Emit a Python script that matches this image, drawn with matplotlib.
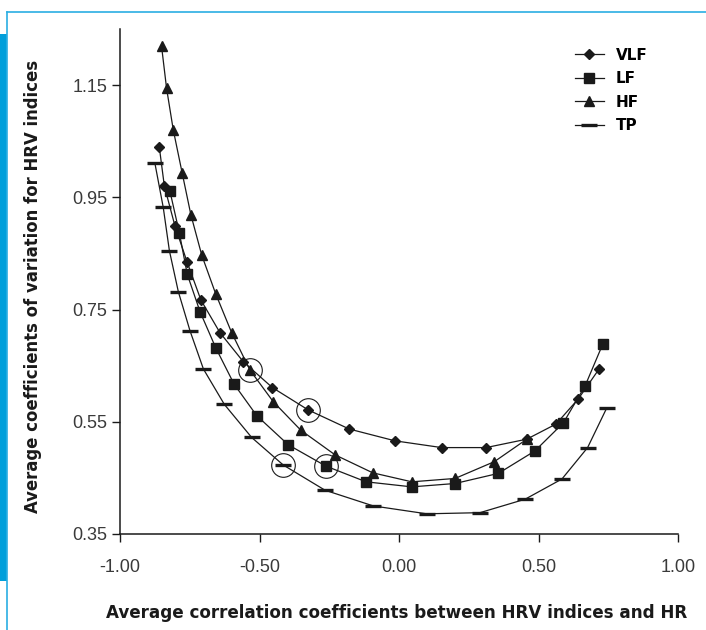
import matplotlib.pyplot as plt
from matplotlib.lines import Line2D
from matplotlib.patches import Rectangle

plt.rcParams['font.family'] = ['Liberation Sans', 'DejaVu Sans']

# VLF (diamonds)
vlf_x = [-0.859, -0.841, -0.803, -0.759, -0.710, -0.642, -0.558, -0.454, -0.325,
         -0.178, -0.014, 0.153, 0.312, 0.458, 0.563, 0.643, 0.717]
vlf_y = [1.039, 0.970, 0.899, 0.834, 0.767, 0.709, 0.657, 0.611, 0.571,
         0.537, 0.516, 0.504, 0.504, 0.519, 0.546, 0.591, 0.644]

# LF (squares)
lf_x = [-0.821, -0.787, -0.759, -0.713, -0.657, -0.591, -0.510, -0.397, -0.262,
        -0.118, 0.046, 0.201, 0.356, 0.487, 0.589, 0.667, 0.730]
lf_y = [0.961, 0.886, 0.813, 0.746, 0.682, 0.617, 0.561, 0.509, 0.471,
        0.443, 0.434, 0.440, 0.458, 0.498, 0.548, 0.614, 0.688]

# HF (triangles)
hf_x = [-0.851, -0.833, -0.809, -0.777, -0.746, -0.707, -0.657, -0.600, -0.534,
        -0.451, -0.352, -0.229, -0.094, 0.046, 0.201, 0.342, 0.458]
hf_y = [1.219, 1.144, 1.070, 0.993, 0.919, 0.847, 0.778, 0.709, 0.642,
        0.586, 0.535, 0.491, 0.459, 0.443, 0.449, 0.479, 0.519]

# TP (bars)
tp_x = [-0.875, -0.845, -0.823, -0.791, -0.749, -0.701, -0.626, -0.528, -0.415,
        -0.265, -0.092, 0.099, 0.290, 0.452, 0.584, 0.676, 0.744]
tp_y = [1.011, 0.932, 0.855, 0.782, 0.712, 0.644, 0.581, 0.522, 0.473,
        0.428, 0.400, 0.386, 0.388, 0.412, 0.448, 0.504, 0.574]

circled_idx = 8  # point circled on each curve

x_ticks = [-1.0, -0.5, 0.0, 0.5, 1.0]
y_ticks = [0.35, 0.55, 0.75, 0.95, 1.15]

ink = '#1a1a1a'
bold_font = ['DejaVu Sans']

fig = plt.figure(figsize=(7.06, 6.30), dpi=100)
ax = fig.add_axes([120 / 706, 96 / 630, 558 / 706, 505 / 630])

ax.plot(vlf_x, vlf_y, color=ink, lw=0.9, marker='D', ms=5.5, mfc=ink, mec=ink, label='VLF')
ax.plot(lf_x, lf_y, color=ink, lw=0.9, marker='s', ms=7.5, mfc=ink, mec=ink, label='LF')
ax.plot(hf_x, hf_y, color=ink, lw=0.9, marker='^', ms=7.5, mfc=ink, mec=ink, label='HF')
ax.plot(tp_x, tp_y, color=ink, lw=0.9, marker='_', ms=11, mew=2.4, mec=ink, label='TP')

# open circles around the marked points
for xs, ys in [(vlf_x, vlf_y), (lf_x, lf_y), (hf_x, hf_y), (tp_x, tp_y)]:
    ax.plot(xs[circled_idx], ys[circled_idx], marker='o', ms=17, mfc='none',
            mec=ink, mew=0.8, ls='none')

ax.set_xlim(-1.0, 1.0)
ax.set_ylim(0.35, 1.25)
ax.set_xticks(x_ticks)
ax.set_yticks(y_ticks)
ax.set_xticklabels([f'{v:.2f}' for v in x_ticks])
ax.set_yticklabels([f'{v:.2f}' for v in y_ticks])
ax.tick_params(direction='out', length=6, width=1, colors=ink, labelcolor='#3a3a3a',
               labelsize=13)
ax.tick_params(axis='x', pad=12)
ax.tick_params(axis='y', pad=3)
for s in ['top', 'right']:
    ax.spines[s].set_visible(False)
for s in ['left', 'bottom']:
    ax.spines[s].set_linewidth(1.1)
    ax.spines[s].set_color(ink)

fig.text(397 / 706, 1 - 613 / 630,
         'Average correlation coefficients between HRV indices and HR',
         ha='center', va='center', fontsize=12.1, fontweight='bold', color=ink,
         family=bold_font)
fig.text(33 / 706, 1 - 286 / 630,
         'Average coefficients of variation for HRV indices',
         ha='center', va='center', rotation=90, fontsize=11.9, fontweight='bold',
         color=ink, family=bold_font)

ax.legend(loc='upper left', bbox_to_anchor=(0.79, 0.99), frameon=False,
          handlelength=1.9, labelspacing=0.55,
          prop={'weight': 'bold', 'size': 11, 'family': bold_font})

# blue page decorations
fig.add_artist(Rectangle((0, 1 - 581 / 630), 7 / 706, 547 / 630,
                         transform=fig.transFigure, color='#009fdb', lw=0))
fig.add_artist(Line2D([7 / 706, 1], [1 - 12 / 630, 1 - 12 / 630],
                      transform=fig.transFigure, color='#2aaee3', lw=1.2))
fig.add_artist(Line2D([7 / 706, 7 / 706], [0, 1 - 12 / 630],
                      transform=fig.transFigure, color='#2aaee3', lw=1.2))

fig.savefig('out.png', dpi=100)
